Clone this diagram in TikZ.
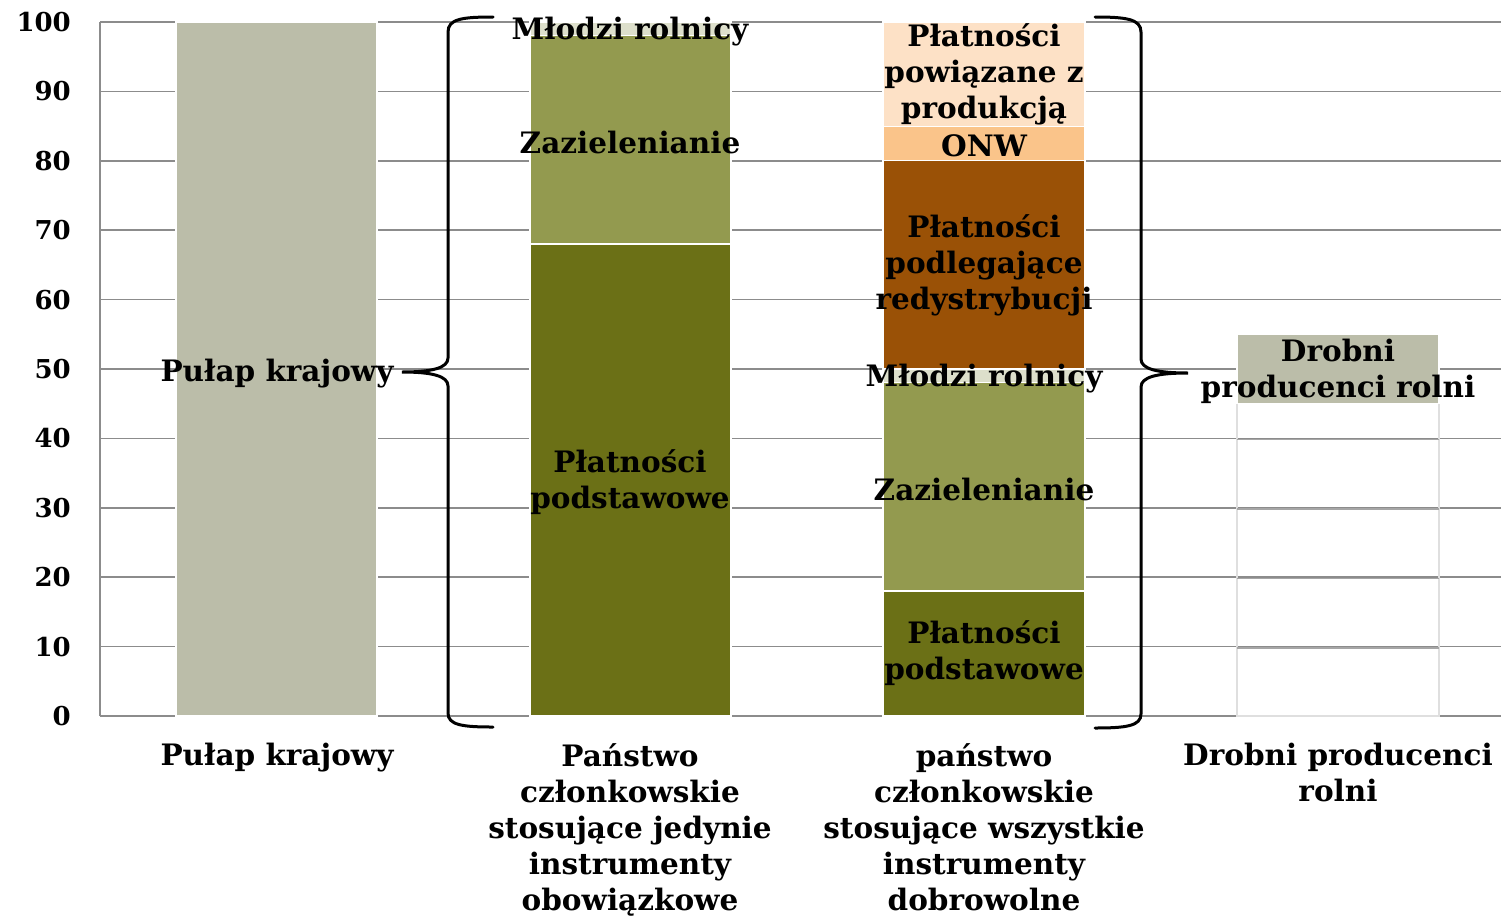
\documentclass[tikz,border=0pt]{standalone}
\usepackage{fontspec}
\setmainfont{DejaVu Serif}
\definecolor{gbar}{HTML}{BBBDA9}
\definecolor{green1}{HTML}{6B7016}
\definecolor{green2}{HTML}{939A4F}
\definecolor{green3}{HTML}{DDDFCB}
\definecolor{brown1}{HTML}{9A5106}
\definecolor{onw}{HTML}{FAC48A}
\definecolor{peach}{HTML}{FDE1C6}
\definecolor{gridc}{HTML}{8C8C8C}
\begin{document}
\begin{tikzpicture}[x=1pt,y=-1pt,
  lbl/.style={font=\bfseries\fontsize{29.5}{36}\selectfont, align=center, inner sep=0pt},
  tick/.style={font=\bfseries\fontsize{26}{28}\selectfont, inner sep=0pt, anchor=east},
  gridline/.style={draw=gridc, line width=1.6pt},
  seg/.style={draw=white, line width=1.2pt},
  brace/.style={draw=black, line width=3pt, line cap=round}]
\useasboundingbox (0,0) rectangle (1501,916);
\begin{scope}[y=6.94pt, shift={(0pt,-716pt)}]
  % grid
  \foreach \v in {0,10,...,100} {
    \draw[gridline] (100,\v) -- (1501,\v);
    \node[tick] (t\v) at (71,\v) {\v};
  }
  \draw[gridline] (100,0) -- (100,100);
  % bar 1
  \filldraw[seg, fill=gbar] (176,0) rectangle (377,100);
  % bar 2
  \filldraw[seg, fill=green1] (530,0) rectangle (731,68);
  \filldraw[seg, fill=green2] (530,68) rectangle (731,98);
  \filldraw[seg, fill=green3] (530,98) rectangle (731,100);
  % bar 3
  \filldraw[seg, fill=green1] (883,0) rectangle (1085,18);
  \filldraw[seg, fill=green2] (883,18) rectangle (1085,48);
  \filldraw[seg, fill=green3] (883,48) rectangle (1085,50);
  \filldraw[seg, fill=brown1] (883,50) rectangle (1085,80);
  \filldraw[seg, fill=onw] (883,80) rectangle (1085,85);
  \filldraw[seg, fill=peach] (883,85) rectangle (1085,100);
  % bar 4
  \draw[gray!25, line width=1.2pt] (1237,0) rectangle (1439,45);
  \foreach \v in {10,20,30,40} \draw[gray!70, line width=1.4pt] (1237,\v-0.2) -- (1439,\v-0.2);
  \filldraw[seg, fill=gbar] (1237,45) rectangle (1439,55);
  % labels in bars
  \node[lbl] (l1) at (277,49.4) {Pułap krajowy};
  \node[lbl] (b2a) at (630,33.7) {Płatności\\podstawowe};
  \node[lbl] (b2b) at (630,82.6) {Zazielenianie};
  \node[lbl] (b2c) at (630,98.6) {Młodzi rolnicy};
  \node[lbl] (b3a) at (984,9) {Płatności\\podstawowe};
  \node[lbl] (b3b) at (984,32.6) {Zazielenianie};
  \node[lbl] (b3c) at (984,48.6) {Młodzi rolnicy};
  \node[lbl] (b3d) at (984,65) {Płatności\\podlegające\\redystrybucji};
  \node[lbl] (b3e) at (984,82.2) {ONW};
  \node[lbl] (b3f) at (984,92.5) {Płatności\\powiązane z\\produkcją};
  \node[lbl] (b4a) at (1338,49.7) {Drobni\\producenci rolni};
\end{scope}
% category labels
\node[lbl, anchor=north] (c1) at (277,743) {Pułap krajowy};
\node[lbl, anchor=north] (c2) at (630,743) {Państwo\\członkowskie\\stosujące jedynie\\instrumenty\\obowiązkowe};
\node[lbl, anchor=north] (c3) at (984,743) {państwo\\członkowskie\\stosujące wszystkie\\instrumenty\\dobrowolne};
\node[lbl, anchor=north] (c4) at (1338,743) {Drobni producenci\\rolni};
% braces
\draw[brace] (493,17) .. controls (462,17) and (448,19) .. (448,32) -- (448,358)
  .. controls (448,368) and (432,372) .. (402,372)
  .. controls (432,372) and (448,376) .. (448,386) -- (448,713)
  .. controls (448,725) and (462,727) .. (493,727);
\draw[brace] (1095,17) .. controls (1126,17) and (1141,19) .. (1141,32) -- (1141,359)
  .. controls (1141,369) and (1157,373) .. (1188,373)
  .. controls (1157,373) and (1141,377) .. (1141,387) -- (1141,714)
  .. controls (1141,726) and (1126,728) .. (1095,728);
\end{tikzpicture}
\end{document}
